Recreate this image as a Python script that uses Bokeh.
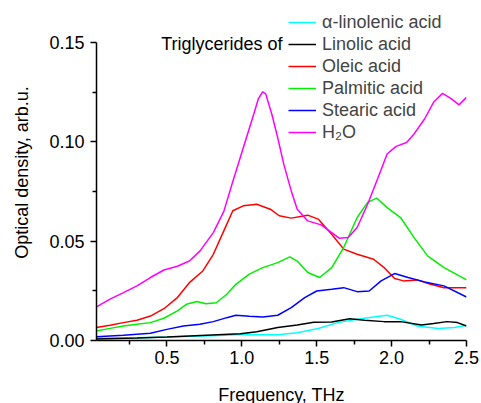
from bokeh.plotting import figure
from bokeh.models import (Range1d, FixedTicker, Legend, LegendItem, Label, PrintfTickFormatter)
from bokeh.embed import file_html
from bokeh.resources import INLINE

# ---- data ----
h2o_x = [0.03, 0.12, 0.21, 0.30, 0.39, 0.48, 0.57, 0.65, 0.72, 0.81, 0.88, 0.94, 1.01, 1.08, 1.11, 1.14,
         1.16, 1.20, 1.24, 1.28, 1.33, 1.37, 1.44, 1.53, 1.60, 1.65, 1.71, 1.77, 1.84, 1.91, 1.97, 2.03,
         2.10, 2.15, 2.22, 2.28, 2.34, 2.40, 2.45, 2.50]
h2o_y = [0.0169, 0.0208, 0.0241, 0.0275, 0.0317, 0.0355, 0.0374, 0.0400, 0.0450, 0.0543, 0.0650, 0.0800,
         0.0970, 0.1140, 0.1216, 0.1252, 0.1240, 0.1140, 0.1020, 0.0888, 0.0753, 0.0661, 0.0602, 0.0582,
         0.0543, 0.0515, 0.0518, 0.0569, 0.0686, 0.0820, 0.0939, 0.0977, 0.0997, 0.1040, 0.1115, 0.1199,
         0.1244, 0.1216, 0.1186, 0.1224]

oleic_x = [0.03, 0.12, 0.21, 0.30, 0.39, 0.48, 0.57, 0.65, 0.74, 0.81, 0.88, 0.94, 1.01, 1.10, 1.19, 1.25,
           1.33, 1.44, 1.51, 1.60, 1.68, 1.77, 1.88, 1.95, 2.02, 2.08, 2.17, 2.26, 2.35, 2.50]
oleic_y = [0.0065, 0.0077, 0.0090, 0.0102, 0.0123, 0.0160, 0.0216, 0.0291, 0.0350, 0.0434, 0.0552, 0.0653,
           0.0678, 0.0686, 0.0661, 0.0628, 0.0616, 0.0631, 0.0611, 0.0535, 0.0460, 0.0434, 0.0409, 0.0367,
           0.0312, 0.0300, 0.0305, 0.0283, 0.0266, 0.0266]

palm_x = [0.03, 0.12, 0.21, 0.30, 0.39, 0.48, 0.57, 0.63, 0.70, 0.76, 0.83, 0.90, 0.96, 1.05, 1.14, 1.24,
          1.32, 1.37, 1.44, 1.52, 1.60, 1.68, 1.77, 1.84, 1.90, 1.97, 2.06, 2.15, 2.24, 2.35, 2.50]
palm_y = [0.0048, 0.0061, 0.0073, 0.0082, 0.0090, 0.0112, 0.0149, 0.0182, 0.0196, 0.0185, 0.0190, 0.0233,
          0.0283, 0.0334, 0.0367, 0.0392, 0.0421, 0.0400, 0.0342, 0.0317, 0.0367, 0.0468, 0.0619, 0.0695,
          0.0717, 0.0669, 0.0619, 0.0518, 0.0426, 0.0367, 0.0305]

stear_x = [0.03, 0.21, 0.39, 0.50, 0.61, 0.72, 0.81, 0.90, 0.96, 1.05, 1.14, 1.24, 1.33, 1.42, 1.50, 1.60,
           1.68, 1.77, 1.85, 1.93, 2.02, 2.11, 2.22, 2.35, 2.50]
stear_y = [0.0019, 0.0026, 0.0036, 0.0056, 0.0073, 0.0082, 0.0095, 0.0115, 0.0127, 0.0122, 0.0118, 0.0127,
           0.0165, 0.0216, 0.0249, 0.0258, 0.0266, 0.0246, 0.0249, 0.0300, 0.0337, 0.0317, 0.0295, 0.0275,
           0.0219]

linol_x = [0.03, 0.30, 0.50, 0.80, 0.99, 1.10, 1.24, 1.37, 1.48, 1.60, 1.72, 1.82, 1.95, 2.06, 2.20, 2.28,
           2.37, 2.44, 2.50]
linol_y = [0.0007, 0.0012, 0.0018, 0.0028, 0.0034, 0.0044, 0.0065, 0.0078, 0.0092, 0.0093, 0.0110, 0.0102,
           0.0095, 0.0095, 0.0078, 0.0085, 0.0095, 0.0090, 0.0073]

alin_x = [0.03, 0.30, 0.50, 0.80, 1.00, 1.24, 1.37, 1.51, 1.64, 1.77, 1.88, 1.97, 2.06, 2.17, 2.31, 2.42, 2.50]
alin_y = [0.0011, 0.0014, 0.0017, 0.0024, 0.0030, 0.0029, 0.0039, 0.0060, 0.0090, 0.0107, 0.0118, 0.0127,
          0.0107, 0.0073, 0.0060, 0.0065, 0.0077]

series_names = ["α-linolenic acid", "Linolic acid", "Oleic acid", "Palmitic acid", "Stearic acid", "H₂O"]
series_colors = ["#00FFFF", "#000000", "#FF0000", "#00F000", "#0000FF", "#FF00FF"]
series_data = [(alin_x, alin_y), (linol_x, linol_y), (oleic_x, oleic_y), (palm_x, palm_y),
               (stear_x, stear_y), (h2o_x, h2o_y)]

x_major = [0.5, 1.0, 1.5, 2.0, 2.5]
x_minor = [0.25, 0.75, 1.25, 1.75, 2.25]
y_major = [0.0, 0.05, 0.10, 0.15]
y_minor = [0.025, 0.075, 0.125]
x_limits = (0.03, 2.5)
y_limits = (0.0, 0.15)

FONT = "Liberation Sans"
FRAME_H = 336
TOP_PAD = 38  # px of frame above the 0.15 tick, room for the legend
y_top = y_limits[1] * FRAME_H / (FRAME_H - TOP_PAD)

p = figure(frame_width=370, frame_height=FRAME_H, output_backend="svg", toolbar_location=None,
           x_range=Range1d(*x_limits), y_range=Range1d(y_limits[0], y_top),
           min_border_left=96, min_border_right=15, min_border_top=4, min_border_bottom=63,
           x_axis_label="Frequency, THz", y_axis_label="Optical density, arb.u.")
p.outline_line_color = None
p.grid.visible = False
p.background_fill_color = "white"
p.border_fill_color = "white"

for ax in (p.xaxis[0], p.yaxis[0]):
    ax.axis_line_width = 1.5
    ax.axis_line_color = "black"
    ax.major_tick_line_width = 1.5
    ax.minor_tick_line_width = 1.5
    ax.major_tick_out = 6
    ax.major_tick_in = 0
    ax.minor_tick_out = 4
    ax.minor_tick_in = 0
    ax.major_label_text_font = FONT
    ax.major_label_text_font_size = "18px"
    ax.major_label_text_color = "black"
    ax.axis_label_text_font = FONT
    ax.axis_label_text_font_size = "18px"
    ax.axis_label_text_font_style = "normal"
    ax.axis_label_text_color = "black"

p.xaxis[0].ticker = FixedTicker(ticks=x_major, minor_ticks=x_minor)
p.yaxis[0].ticker = FixedTicker(ticks=y_major, minor_ticks=y_minor)
p.xaxis[0].formatter = PrintfTickFormatter(format="%.1f")
p.yaxis[0].formatter = PrintfTickFormatter(format="%.2f")
p.yaxis[0].bounds = y_limits
p.xaxis[0].major_label_standoff = 4
p.yaxis[0].major_label_standoff = 6
p.xaxis[0].axis_label_standoff = 18
p.yaxis[0].axis_label_standoff = 14

items = []
for name, color, (xs, ys) in zip(series_names, series_colors, series_data):
    r = p.line(xs, ys, line_color=color, line_width=1.5)
    items.append(LegendItem(label=name, renderers=[r]))

legend = Legend(items=items, location=(192, 197), orientation="vertical",
                glyph_width=28, glyph_height=22, label_height=22, spacing=0,
                padding=0, margin=0, label_standoff=6,
                label_text_font=FONT, label_text_font_size="18px",
                border_line_color=None, background_fill_alpha=0)
p.add_layout(legend, "center")

p.add_layout(Label(x=186, y=297, x_units="screen", y_units="screen", text="Triglycerides of",
                   text_align="right", text_baseline="middle", text_font=FONT,
                   text_font_size="18px", text_color="black"))

open("out.html", "w").write(file_html(p, INLINE))
